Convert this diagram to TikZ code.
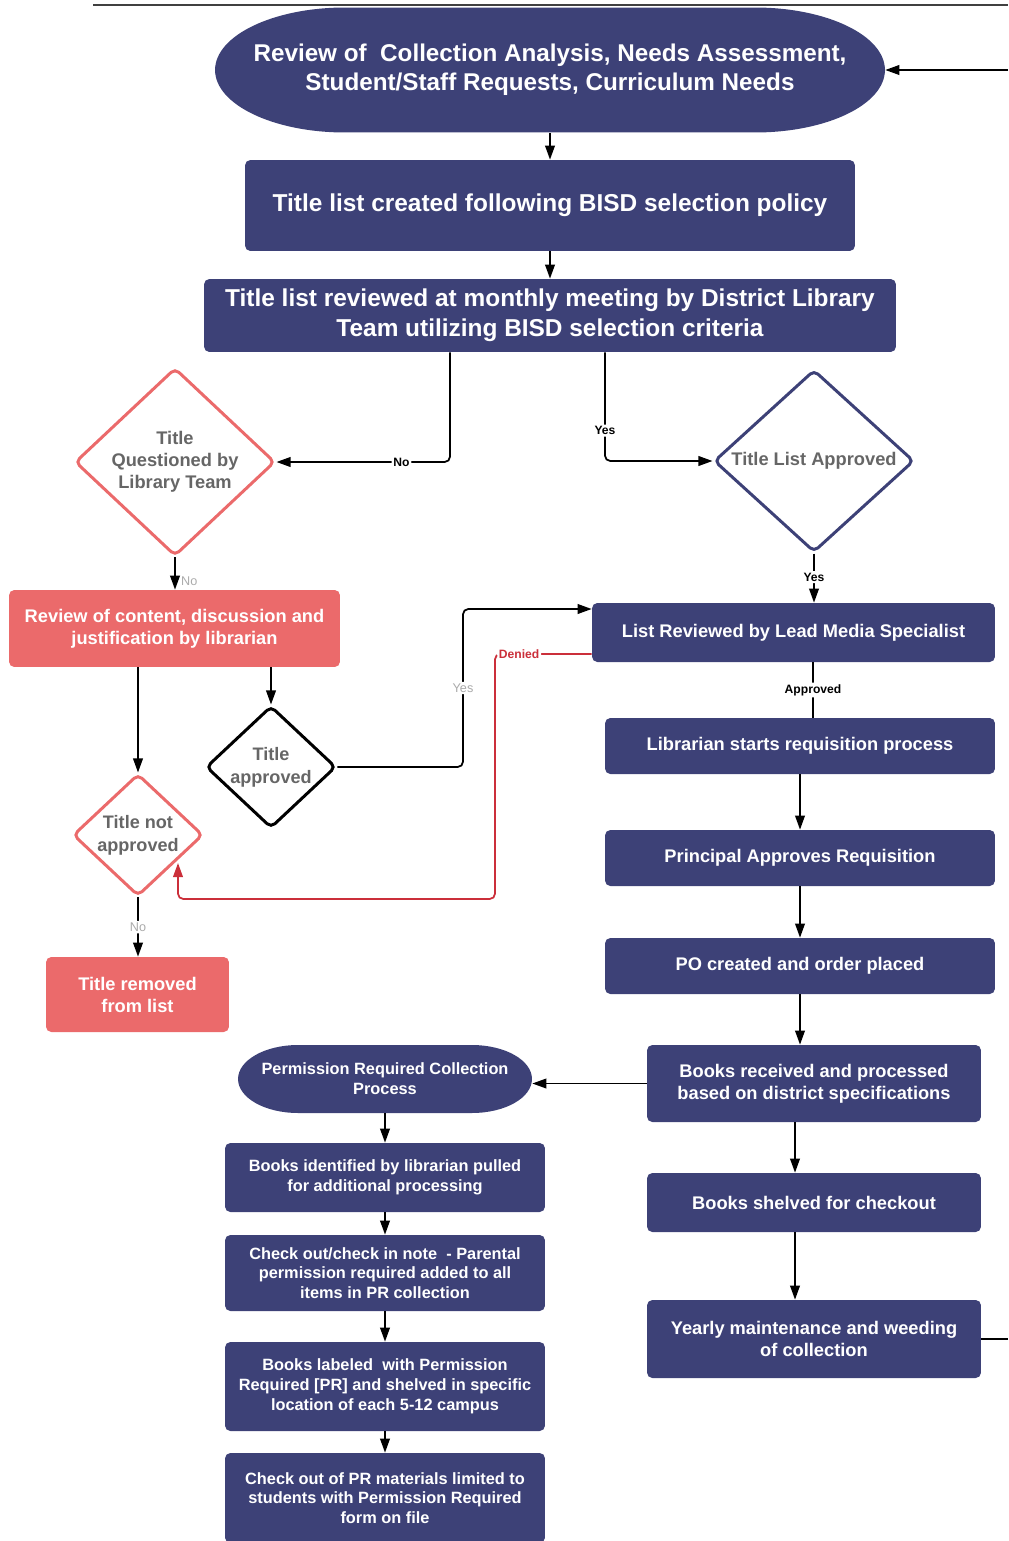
\documentclass[tikz,border=0pt]{standalone}
\usepackage{fontspec}
\setmainfont{Liberation Sans}
\usetikzlibrary{shapes.geometric,arrows.meta}

\definecolor{flownavy}{HTML}{3D4177}
\definecolor{flowred}{HTML}{EB6A6B}
\definecolor{denyred}{HTML}{CB2F3A}
\definecolor{qgray}{HTML}{666666}
\definecolor{lgray}{HTML}{ABABAB}

\newcommand{\fsz}[2]{\fontsize{#1}{#2}\selectfont\bfseries}

\tikzset{
  navybox/.style={rectangle, rounded corners=3pt, fill=flownavy, text=white, align=center, inner sep=0pt},
  redbox/.style={rectangle, rounded corners=3pt, fill=flowred, text=white, align=center, inner sep=0pt},
  pill/.style 2 args={rectangle, text=white, align=center, inner sep=0pt,
    path picture={\fill[flownavy] ([xshift=#1]path picture bounding box.north west)
      -- ([xshift=-#1]path picture bounding box.north east) arc[start angle=90, end angle=-90, x radius=#1, y radius=#2]
      -- ([xshift=#1]path picture bounding box.south west) arc[start angle=270, end angle=90, x radius=#1, y radius=#2]
      -- cycle;}},
  askred/.style={diamond, draw=flowred, line width=1.7pt, rounded corners=3pt, fill=white, text=qgray, align=center, inner sep=0pt},
  asknavy/.style={askred, draw=flownavy},
  askblack/.style={askred, draw=black},
  conn/.style={line width=1pt, rounded corners=3pt},
  arr/.style={conn, -{Triangle[length=8pt,width=5.5pt]}},
  lbl/.style={fill=white, inner sep=1pt, font=\fsz{6.9pt}{7.5pt}},
  glbl/.style={text=lgray, inner sep=1pt, font=\fontsize{7.2pt}{8pt}\selectfont},
}

\begin{document}
\begin{tikzpicture}[x=0.02cm, y=-0.02cm]
\useasboundingbox (0,0) rectangle (1008,1541);

% top rule and loop ends
\draw[line width=1pt, black!75] (93,5) -- (1008,5);
\coordinate (loopin) at (1008,70);
\coordinate (loopout) at (1008,1339);

% main column
\node[pill={2.6cm}{1.25cm}, minimum width=13.4cm, minimum height=2.5cm, font=\fsz{13.8pt}{16.6pt}] (review) at (550,70)
  {Review of~ Collection Analysis, Needs Assessment,\\Student/Staff Requests, Curriculum Needs};
\node[navybox, minimum width=12.2cm, minimum height=1.82cm, font=\fsz{13.9pt}{17pt}] (policy) at (550,205.5)
  {Title list created following BISD selection policy};
\node[navybox, minimum width=13.84cm, minimum height=1.46cm, font=\fsz{13.9pt}{17pt}] (meeting) at (550,315.5)
  {Title list reviewed at monthly meeting by District Library\\Team utilizing BISD selection criteria};

% decisions
\node[askred, minimum width=4cm, minimum height=3.6cm, font=\fsz{10.4pt}{12.5pt}] (questioned) at (175,462)
  {Title\\Questioned by\\Library Team};
\node[asknavy, minimum width=4cm, minimum height=3.6cm, font=\fsz{10.4pt}{12.5pt}] (listok) at (814,461)
  {Title List Approved};

% left branch
\node[redbox, minimum width=6.62cm, minimum height=1.54cm, font=\fsz{10.4pt}{12.5pt}] (content) at (174.5,628.5)
  {Review of content, discussion and\\justification by librarian};
\node[askblack, minimum width=2.6cm, minimum height=2.44cm, font=\fsz{10.3pt}{13pt}] (titleok) at (271,767)
  {Title\\approved};
\node[askred, minimum width=2.6cm, minimum height=2.44cm, font=\fsz{10.3pt}{13pt}] (titlenot) at (138,835)
  {Title not\\approved};
\node[redbox, minimum width=3.66cm, minimum height=1.5cm, font=\fsz{10.4pt}{12.5pt}] (removed) at (137.5,994.5)
  {Title removed\\from list};
\coordinate (deny) at (178,863);

% right branch
\node[navybox, minimum width=8.06cm, minimum height=1.18cm, font=\fsz{10.4pt}{12.5pt}] (lms) at (793.5,632.5)
  {List Reviewed by Lead Media Specialist};
\node[navybox, minimum width=7.8cm, minimum height=1.12cm, font=\fsz{10.4pt}{12.5pt}] (lib) at (800,746)
  {Librarian starts requisition process};
\node[navybox, minimum width=7.8cm, minimum height=1.12cm, font=\fsz{10.4pt}{12.5pt}] (prin) at (800,858)
  {Principal Approves Requisition};
\node[navybox, minimum width=7.8cm, minimum height=1.12cm, font=\fsz{10.4pt}{12.5pt}] (po) at (800,966)
  {PO created and order placed};
\node[navybox, minimum width=6.68cm, minimum height=1.54cm, font=\fsz{10.4pt}{12.5pt}] (recv) at (814,1083.5)
  {Books received and processed\\based on district specifications};
\node[navybox, minimum width=6.68cm, minimum height=1.18cm, font=\fsz{10.4pt}{12.5pt}] (shelf) at (814,1202.5)
  {Books shelved for checkout};
\node[navybox, minimum width=6.68cm, minimum height=1.56cm, font=\fsz{10.4pt}{12.5pt}] (yearly) at (814,1339)
  {Yearly maintenance and weeding\\of collection};

% permission required column
\node[pill={1.2cm}{0.68cm}, minimum width=5.88cm, minimum height=1.36cm, font=\fsz{9.3pt}{11.3pt}] (perm) at (385,1079)
  {Permission Required Collection\\Process};
\node[navybox, minimum width=6.4cm, minimum height=1.38cm, font=\fsz{9.3pt}{11.3pt}] (pra) at (385,1177.5)
  {Books identified by librarian pulled\\for additional processing};
\node[navybox, minimum width=6.4cm, minimum height=1.52cm, font=\fsz{9.3pt}{11.3pt}] (prb) at (385,1273)
  {Check out/check in note~ - Parental\\permission required added to all\\items in PR collection};
\node[navybox, minimum width=6.4cm, minimum height=1.78cm, font=\fsz{9.3pt}{11.3pt}] (prc) at (385,1386.5)
  {Books labeled~ with Permission\\Required [PR] and shelved in specific\\location of each 5-12 campus};
\node[navybox, minimum width=6.4cm, minimum height=1.8cm, font=\fsz{9.3pt}{11.3pt}] (prd) at (385,1498)
  {Check out of PR materials limited to\\students with Permission Required\\form on file};

% connectors
\draw[arr] (loopin) -- (review.east);
\draw[arr] (review) -- (policy);
\draw[arr] (policy) -- (meeting);
\draw[arr] (meeting.south -| 450,0) |- node[lbl, pos=0.64] {No} (questioned.east);
\draw[arr] (meeting.south -| 605,0) |- node[lbl, pos=0.36] {Yes} (listok.west);
\draw[arr] (questioned.south) -- node[glbl, right, pos=0.75, xshift=2pt] {No} (content.north -| questioned.south);
\draw[arr] (listok.south) -- node[lbl, pos=0.48] {Yes} (lms.north -| listok.south);
\draw[conn] (lms.south -| 813,0) -- node[lbl] {Approved} (lib.north -| 813,0);
\foreach \a/\b in {lib/prin, prin/po}
  \draw[arr] (\a) -- (\b);
\draw[arr] (po.south) -- (recv.north -| po.south);
\draw[arr] (recv.west) -- (recv.west -| perm.east);
\draw[arr] (recv.south -| 795,0) -- (shelf.north -| 795,0);
\draw[arr] (shelf.south -| 795,0) -- (yearly.north -| 795,0);
\draw[conn] (yearly.east) -- (loopout);

\draw[arr] (content.south -| titlenot.north) -- (titlenot.north);
\draw[arr] (content.south -| titleok.north) -- (titleok.north);
\draw[arr] (titleok.east) -| node[glbl, fill=white, pos=0.75] {Yes} (463,609) -- (lms.west |- 0,609);
\draw[arr, denyred] (lms.west |- 0,654) -- node[lbl, text=denyred, pos=0.75] {Denied} (495,654) -- (495,899) -| (deny);
\draw[arr] (titlenot.south) -- node[glbl, fill=white] {No} (removed.north -| titlenot.south);

\foreach \a/\b in {perm/pra, pra/prb, prb/prc, prc/prd}
  \draw[arr] (\a) -- (\b);
\end{tikzpicture}
\end{document}
